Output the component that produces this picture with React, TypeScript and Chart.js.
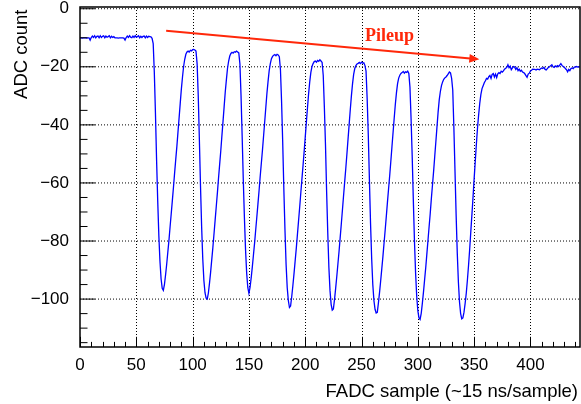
import React, { useEffect, useRef } from 'react';
import { Chart, registerables } from 'chart.js';

Chart.register(...registerables);

// ---- data -------------------------------------------------------------
const firstSample = 0;
// ADC count for every FADC sample (index = sample number)
const adcCounts: number[] = [
  -10.0, -10.0, -10.1, -10.0, -10.0, -10.0, -10.1, -10.0, -10.0, -10.8,
  -9.9, -9.4, -9.9, -9.3, -10.0, -9.5, -9.4, -10.0, -9.3, -9.9,
  -9.5, -9.3, -10.0, -9.4, -9.8, -9.6, -9.3, -10.0, -9.5, -9.9,
  -9.6, -10.0, -10.0, -10.0, -10.1, -10.0, -10.0, -10.0, -10.0, -10.1,
  -10.8, -9.9, -9.4, -9.9, -9.3, -9.8, -10.0, -9.4, -9.9, -9.3,
  -9.8, -9.6, -9.3, -10.0, -9.5, -9.9, -9.5, -9.4, -10.0, -9.4,
  -9.9, -9.5, -9.6, -9.7, -10.2, -12, -22, -36, -52, -66,
  -78, -87, -93, -96.3, -97.0, -94.9, -91.6, -87.9, -83.8, -79.7,
  -75.1, -70.6, -66.1, -61.5, -56.6, -52.0, -47.5, -42.5, -37.6, -32.6,
  -27.7, -23.6, -19.9, -17.4, -15.7, -14.9, -14.6, -14.9, -14.3, -14.5,
  -14.1, -14.0, -14.2, -14.6, -19, -30, -45, -61, -75, -86,
  -93.5, -97.8, -99.7, -100.0, -97.9, -94.5, -90.7, -86.4, -82.2, -77.5,
  -72.8, -68.1, -63.4, -58.4, -53.7, -49.0, -43.8, -38.8, -33.7, -28.6,
  -24.4, -20.5, -18.0, -16.3, -15.4, -15.0, -15.3, -14.8, -15.0, -14.6,
  -14.9, -15.2, -19, -30, -44, -59, -72, -83, -91, -96,
  -98.0, -96.0, -92.7, -89.0, -84.9, -80.8, -76.3, -71.8, -67.3, -62.7,
  -57.8, -53.3, -48.8, -43.9, -39.0, -34.0, -29.1, -25.0, -21.3, -18.9,
  -17.2, -16.4, -16.0, -15.8, -16.2, -15.7, -15.9, -16.5, -21, -32,
  -46, -62, -76, -88, -96, -100.5, -102.9, -102.4, -99.2, -95.5,
  -91.4, -87.1, -82.8, -78.1, -73.4, -68.7, -63.8, -59.0, -54.3, -49.4,
  -44.3, -39.2, -34.1, -29.3, -25.2, -21.9, -19.9, -18.9, -18.2, -18.0,
  -18.4, -17.8, -18.1, -17.6, -18.0, -18.5, -23, -34, -47, -63,
  -77, -89, -97, -101.8, -103.8, -103.4, -100.2, -96.4, -92.3, -88.0,
  -83.7, -79.0, -74.3, -69.5, -64.6, -59.8, -55.1, -50.1, -45.0, -39.9,
  -34.8, -30.0, -25.9, -22.6, -20.6, -19.6, -19.0, -18.8, -18.5, -18.9,
  -18.4, -18.7, -18.6, -19.5, -21.5, -31, -43.5, -59, -74, -86,
  -95, -100.5, -103.5, -104.8, -104.6, -101.3, -97.7, -93.7, -89.5, -85.3,
  -80.7, -76.2, -71.5, -66.7, -62.1, -57.5, -52.6, -47.6, -42.6, -37.7,
  -33.0, -29.0, -25.8, -23.9, -22.9, -22.3, -22.0, -21.6, -22.2, -21.7,
  -21.9, -21.5, -22.3, -27, -38, -51, -66, -80, -91, -99,
  -104, -106.5, -107.0, -104.9, -101.5, -97.6, -93.4, -89.2, -84.5, -79.8,
  -75.1, -70.5, -65.4, -60.7, -56.0, -50.9, -45.8, -40.7, -35.6, -31.4,
  -28.5, -26.5, -25.2, -24.3, -23.8, -23.5, -23.0, -22.4, -21.8, -22.1,
  -24, -28, -41, -56, -71, -84, -94, -101, -105, -106.8,
  -106.5, -104.5, -101.5, -98, -93.5, -88.5, -83, -77, -71, -65,
  -58.5, -52.5, -46.5, -41, -36.5, -32.5, -29.5, -27.5, -26.5, -25.5,
  -24.8, -24.0, -24.2, -23.4, -23.0, -24.0, -22.6, -22.3, -23.5, -22.5,
  -23.7, -22.4, -22.0, -22.3, -21.5, -21.8, -21.4, -20.8, -20.5, -20.2,
  -19.3, -20.3, -19.8, -21.0, -20.4, -19.9, -20.1, -20.9, -20.3, -21.3,
  -20.8, -21.5, -21.2, -21.8, -22.0, -22.4, -23.0, -23.6, -22.5, -22.2,
  -21.4, -21.2, -20.8, -20.9, -20.9, -21.1, -20.8, -20.9, -21.0, -20.7,
  -20.4, -20.6, -20.2, -20.9, -21.1, -20.6, -20.2, -20.0, -19.6, -19.3,
  -20.0, -20.2, -19.7, -20.0, -19.6, -19.9, -19.4, -18.9, -19.5, -19.9,
  -20.1, -20.6, -21.0, -21.7, -20.9, -21.3, -20.6, -20.4, -20.6, -20.1,
  -20.0, -19.9, -20.1, -20.0, -20.0,
];

const xRange = [0, 444];
const yRange = [-116.5, 0.6];
const xMajorStep = 50;
const xMinorStep = 10;
const yMajorStep = 20;
const yMinorStep = 5;

const xTitle = 'FADC sample (~15 ns/sample)';
const yTitle = 'ADC count';

const annotationLabel = 'Pileup';
const annotationLabelAt = [253.1, -11.0];
const arrowFrom = [76.5, -7.6];
const arrowTo = [354.6, -17.4];

// ---- styles ------------------------------------------------------------
const SANS = '"Liberation Sans", Arial, Helvetica, sans-serif';
const SERIF = '"Liberation Serif", "Times New Roman", serif';
const LINE_BLUE = '#0000ff';
const ANNOT_RED = 'rgb(255, 40, 10)';

const rootStylePlugin = {
  id: 'rootStyle',
  beforeDatasetsDraw(chart: any) {
    const { ctx, chartArea: a, scales } = chart;
    const x = scales.x;
    const y = scales.y;
    ctx.save();
    ctx.strokeStyle = '#000';
    ctx.lineWidth = 1;
    ctx.setLineDash([1, 2]);
    x.ticks.forEach((t: any) => {
      if (t.value <= x.min || t.value >= x.max) return;
      const px = Math.round(x.getPixelForValue(t.value)) + 0.5;
      ctx.beginPath();
      ctx.moveTo(px, a.top);
      ctx.lineTo(px, a.bottom);
      ctx.stroke();
    });
    y.ticks.forEach((t: any) => {
      if (t.value <= y.min || t.value >= y.max) return;
      const py = y.getPixelForValue(t.value);
      ctx.beginPath();
      ctx.moveTo(a.left, py);
      ctx.lineTo(a.right, py);
      ctx.stroke();
    });
    ctx.restore();
  },
  afterDatasetsDraw(chart: any) {
    const { ctx, chartArea: a, scales } = chart;
    const x = scales.x;
    const y = scales.y;
    ctx.save();
    ctx.setLineDash([]);

    // inner ticks
    ctx.strokeStyle = '#000';
    ctx.lineWidth = 1;
    const xMajLen = a.height * 0.03;
    const yMajLen = a.width * 0.03;
    for (let v = Math.ceil(x.min / xMinorStep) * xMinorStep; v <= x.max; v += xMinorStep) {
      const major = Math.abs(v % xMajorStep) < 1e-6;
      const px = Math.round(x.getPixelForValue(v)) + 0.5;
      ctx.beginPath();
      ctx.moveTo(px, a.bottom);
      ctx.lineTo(px, a.bottom - (major ? xMajLen : xMajLen / 2));
      ctx.stroke();
    }
    for (let v = Math.ceil(y.min / yMinorStep) * yMinorStep; v <= y.max; v += yMinorStep) {
      const major = Math.abs(v % yMajorStep) < 1e-6;
      const py = y.getPixelForValue(v);
      ctx.beginPath();
      ctx.moveTo(a.left, py);
      ctx.lineTo(a.left + (major ? yMajLen : yMajLen / 2), py);
      ctx.stroke();
    }

    // frame
    ctx.lineWidth = 1.5;
    ctx.strokeStyle = '#000';
    ctx.strokeRect(a.left, a.top, a.right - a.left, a.bottom - a.top);

    // annotation arrow
    const x1 = x.getPixelForValue(arrowFrom[0]);
    const y1 = y.getPixelForValue(arrowFrom[1]);
    const x2 = x.getPixelForValue(arrowTo[0]);
    const y2 = y.getPixelForValue(arrowTo[1]);
    const ang = Math.atan2(y2 - y1, x2 - x1);
    const headLen = 10;
    const headHalf = 4.5;
    const bx = x2 - headLen * Math.cos(ang);
    const by = y2 - headLen * Math.sin(ang);
    ctx.strokeStyle = ANNOT_RED;
    ctx.fillStyle = ANNOT_RED;
    ctx.lineWidth = 2;
    ctx.beginPath();
    ctx.moveTo(x1, y1);
    ctx.lineTo(bx + 1 * Math.cos(ang), by + 1 * Math.sin(ang));
    ctx.stroke();
    ctx.beginPath();
    ctx.moveTo(x2, y2);
    ctx.lineTo(bx - headHalf * Math.sin(ang), by + headHalf * Math.cos(ang));
    ctx.lineTo(bx + headHalf * Math.sin(ang), by - headHalf * Math.cos(ang));
    ctx.closePath();
    ctx.fill();

    // annotation text
    ctx.font = `bold 18px ${SERIF}`;
    ctx.textAlign = 'left';
    ctx.textBaseline = 'alphabetic';
    ctx.fillText(
      annotationLabel,
      x.getPixelForValue(annotationLabelAt[0]),
      y.getPixelForValue(annotationLabelAt[1])
    );

    // axis titles
    ctx.fillStyle = '#000';
    ctx.font = `18.5px ${SANS}`;
    ctx.textAlign = 'right';
    ctx.textBaseline = 'alphabetic';
    ctx.fillText(xTitle, a.right - 2, a.bottom + 49.5);

    ctx.save();
    ctx.translate(27.3, a.top + 2.5);
    ctx.rotate(-Math.PI / 2);
    ctx.textAlign = 'right';
    ctx.fillText(yTitle, 0, 0);
    ctx.restore();

    ctx.restore();
  },
};

const fmtTick = (v: number | string) => String(v).replace('-', '\u2212');

export default function App() {
  const canvasRef = useRef<HTMLCanvasElement | null>(null);

  useEffect(() => {
    if (!canvasRef.current) return;
    const points = adcCounts.map((v, i) => ({ x: firstSample + i, y: v }));
    const chart = new Chart(canvasRef.current, {
      type: 'line',
      data: {
        datasets: [
          {
            label: 'ADC',
            data: points,
            borderColor: LINE_BLUE,
            borderWidth: 1.3,
            pointRadius: 0,
            tension: 0,
            fill: false,
          },
        ],
      },
      options: {
        responsive: false,
        devicePixelRatio: 1,
        animation: false,
        layout: { padding: { top: 7, right: 1, left: 0, bottom: 0 } },
        plugins: {
          legend: { display: false },
          tooltip: { enabled: false },
          title: { display: false },
        },
        scales: {
          x: {
            type: 'linear',
            min: xRange[0],
            max: xRange[1],
            grid: { display: false },
            border: { display: false },
            ticks: {
              stepSize: xMajorStep,
              includeBounds: false,
              autoSkip: false,
              maxRotation: 0,
              padding: 0,
              color: '#000',
              font: { family: SANS, size: 17 },
              callback: (v: any) => fmtTick(v),
            },
            afterFit: (s: any) => {
              s.height = 57;
              s.paddingLeft = 0;
              s.paddingRight = 0;
            },
          },
          y: {
            type: 'linear',
            min: yRange[0],
            max: yRange[1],
            grid: { display: false },
            border: { display: false },
            ticks: {
              stepSize: yMajorStep,
              includeBounds: false,
              autoSkip: false,
              padding: 3,
              color: '#000',
              font: { family: SANS, size: 17 },
              callback: (v: any) => fmtTick(v),
            },
            afterFit: (s: any) => {
              s.width = 80;
              s.paddingTop = 0;
              s.paddingBottom = 0;
            },
          },
        },
      },
      plugins: [rootStylePlugin],
    });
    return () => chart.destroy();
  }, []);

  return (
    <div style={{ position: 'absolute', left: 0, top: 0, width: 581, height: 404 }}>
      <canvas ref={canvasRef} width={581} height={404} style={{ display: 'block' }} />
    </div>
  );
}
